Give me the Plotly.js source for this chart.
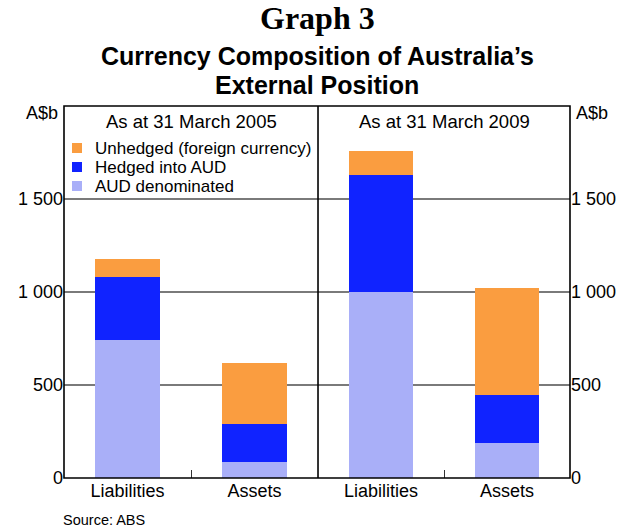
<!DOCTYPE html>
<html>
<head>
<meta charset="utf-8">
<script src="https://cdn.plot.ly/plotly-3.0.1.min.js"></script>
<style>html,body{margin:0;padding:0;background:#fff;}#chart{width:626px;height:530px;}</style>
</head>
<body>
<div id="chart"></div>
<script>
// Data (A$ billion)
const categories = ['Liabilities', 'Assets'];
const panelTitles = ['As at 31 March 2005', 'As at 31 March 2009'];
const seriesNames = ['AUD denominated', 'Hedged into AUD', 'Unhedged (foreign currency)'];
const aud2005 = [742, 86];
const hedged2005 = [337, 207];
const unhedged2005 = [96, 326];
const aud2009 = [1000, 186];
const hedged2009 = [630, 262];
const unhedged2009 = [128, 572];
const yTickVals = [0, 500, 1000, 1500];
const yTickText = ['0', '500', '1 000', '1 500'];

const colors = ['#A9AFF8', '#1023FF', '#FA9D40'];
const FONT = 'Liberation Sans, Arial, sans-serif';

function bar(name, vals, color, xa) {
  return {type: 'bar', name: name, x: categories, y: vals, xaxis: xa, yaxis: 'y',
    marker: {color: color, line: {width: 0}}, showlegend: false, hoverinfo: 'skip'};
}
const data = [
  bar(seriesNames[0], aud2005, colors[0], 'x'),
  bar(seriesNames[1], hedged2005, colors[1], 'x'),
  bar(seriesNames[2], unhedged2005, colors[2], 'x'),
  bar(seriesNames[0], aud2009, colors[0], 'x2'),
  bar(seriesNames[1], hedged2009, colors[1], 'x2'),
  bar(seriesNames[2], unhedged2009, colors[2], 'x2'),
  {type: 'scatter', x: [categories[0]], y: [0], xaxis: 'x2', yaxis: 'y2', mode: 'markers',
   marker: {opacity: 0}, showlegend: false, hoverinfo: 'skip'}
];

const xCommon = {
  type: 'category', ticks: 'inside', tickson: 'boundaries', ticklen: 8, tickwidth: 1,
  tickcolor: '#333', showgrid: false, zeroline: false, showline: false,
  tickfont: {family: FONT, size: 18, color: '#000'}, fixedrange: true
};

// Legend built from series names/colours (top-to-bottom: reversed stack order)
const W = 626 - 64 - 56, H = 530 - 106 - 52;
const legendShapes = [], legendAnn = [];
const legendOrder = [2, 1, 0];
legendOrder.forEach(function (si, row) {
  const cy = 148 + row * 19;           // pixel centre of row
  const yc = 1 - (cy - 106) / H;       // paper coordinate
  legendShapes.push({type: 'rect', xref: 'paper', yref: 'paper',
    x0: (72 - 64) / W, x1: (82 - 64) / W, y0: yc - 5 / H, y1: yc + 5 / H,
    fillcolor: colors[si], line: {width: 0}, layer: 'above'});
  legendAnn.push({text: seriesNames[si], xref: 'paper', yref: 'paper', x: (93 - 64) / W, y: yc,
    xanchor: 'left', yanchor: 'middle', showarrow: false,
    font: {family: FONT, size: 17, color: '#000'}});
});

const layout = {
  width: 626, height: 530,
  margin: {l: 64, r: 56, t: 106, b: 52},
  paper_bgcolor: '#fff', plot_bgcolor: '#fff',
  barmode: 'stack', bargap: 0.49,
  showlegend: false,
  xaxis: Object.assign({domain: [0, 0.502], anchor: 'y'}, xCommon),
  xaxis2: Object.assign({domain: [0.502, 1], anchor: 'y'}, xCommon),
  yaxis: {range: [0, 2000], tickvals: yTickVals, ticktext: yTickText, showgrid: true,
    gridcolor: '#7a7a7a', gridwidth: 1.2, zeroline: false, showline: false, ticks: '',
    tickfont: {family: FONT, size: 18, color: '#000'}, anchor: 'x', fixedrange: true},
  yaxis2: {range: [0, 2000], tickvals: yTickVals, ticktext: yTickText, overlaying: 'y',
    side: 'right', anchor: 'x2', showgrid: false, zeroline: false, showline: false, ticks: '',
    tickfont: {family: FONT, size: 18, color: '#000'}, fixedrange: true},
  shapes: [
    {type: 'rect', xref: 'paper', yref: 'paper', x0: 0, x1: 1, y0: 0, y1: 1,
     line: {color: '#000', width: 1.6}, layer: 'above'},
    {type: 'line', xref: 'paper', yref: 'paper', x0: 0.502, x1: 0.502, y0: 0, y1: 1,
     line: {color: '#000', width: 1.6}, layer: 'above'}
  ].concat(legendShapes),
  annotations: [
    {text: '<b>Graph 3</b>', xref: 'paper', yref: 'paper', x: 0.5, y: 1, yshift: 88,
     xanchor: 'center', yanchor: 'middle', showarrow: false,
     font: {family: 'Liberation Serif, Times New Roman, serif', size: 32, color: '#000'}},
    {text: '<b>Currency Composition of Australia’s</b>', xref: 'paper', yref: 'paper', x: 0.5, y: 1, yshift: 50,
     xanchor: 'center', yanchor: 'middle', showarrow: false,
     font: {family: FONT, size: 25, color: '#000'}},
    {text: '<b>External Position</b>', xref: 'paper', yref: 'paper', x: 0.5, y: 1, yshift: 21,
     xanchor: 'center', yanchor: 'middle', showarrow: false,
     font: {family: FONT, size: 25, color: '#000'}},
    {text: panelTitles[0], xref: 'paper', yref: 'paper', x: 0.251, y: 1, yshift: -15,
     xanchor: 'center', yanchor: 'middle', showarrow: false,
     font: {family: FONT, size: 18.5, color: '#000'}},
    {text: panelTitles[1], xref: 'paper', yref: 'paper', x: 0.751, y: 1, yshift: -15,
     xanchor: 'center', yanchor: 'middle', showarrow: false,
     font: {family: FONT, size: 18.5, color: '#000'}},
    {text: 'A$b', xref: 'paper', yref: 'paper', x: 0, xshift: -4, y: 1, yshift: -7,
     xanchor: 'right', yanchor: 'middle', showarrow: false,
     font: {family: FONT, size: 18, color: '#000'}},
    {text: 'A$b', xref: 'paper', yref: 'paper', x: 1, xshift: 4, y: 1, yshift: -7,
     xanchor: 'left', yanchor: 'middle', showarrow: false,
     font: {family: FONT, size: 18, color: '#000'}},
    {text: 'Source: ABS', xref: 'paper', yref: 'paper', x: 0, xshift: -3, y: 0, yshift: -42,
     xanchor: 'left', yanchor: 'middle', showarrow: false,
     font: {family: FONT, size: 14.5, color: '#000'}}
  ].concat(legendAnn)
};
Plotly.newPlot('chart', data, layout, {displayModeBar: false, staticPlot: true});
</script>
</body>
</html>
